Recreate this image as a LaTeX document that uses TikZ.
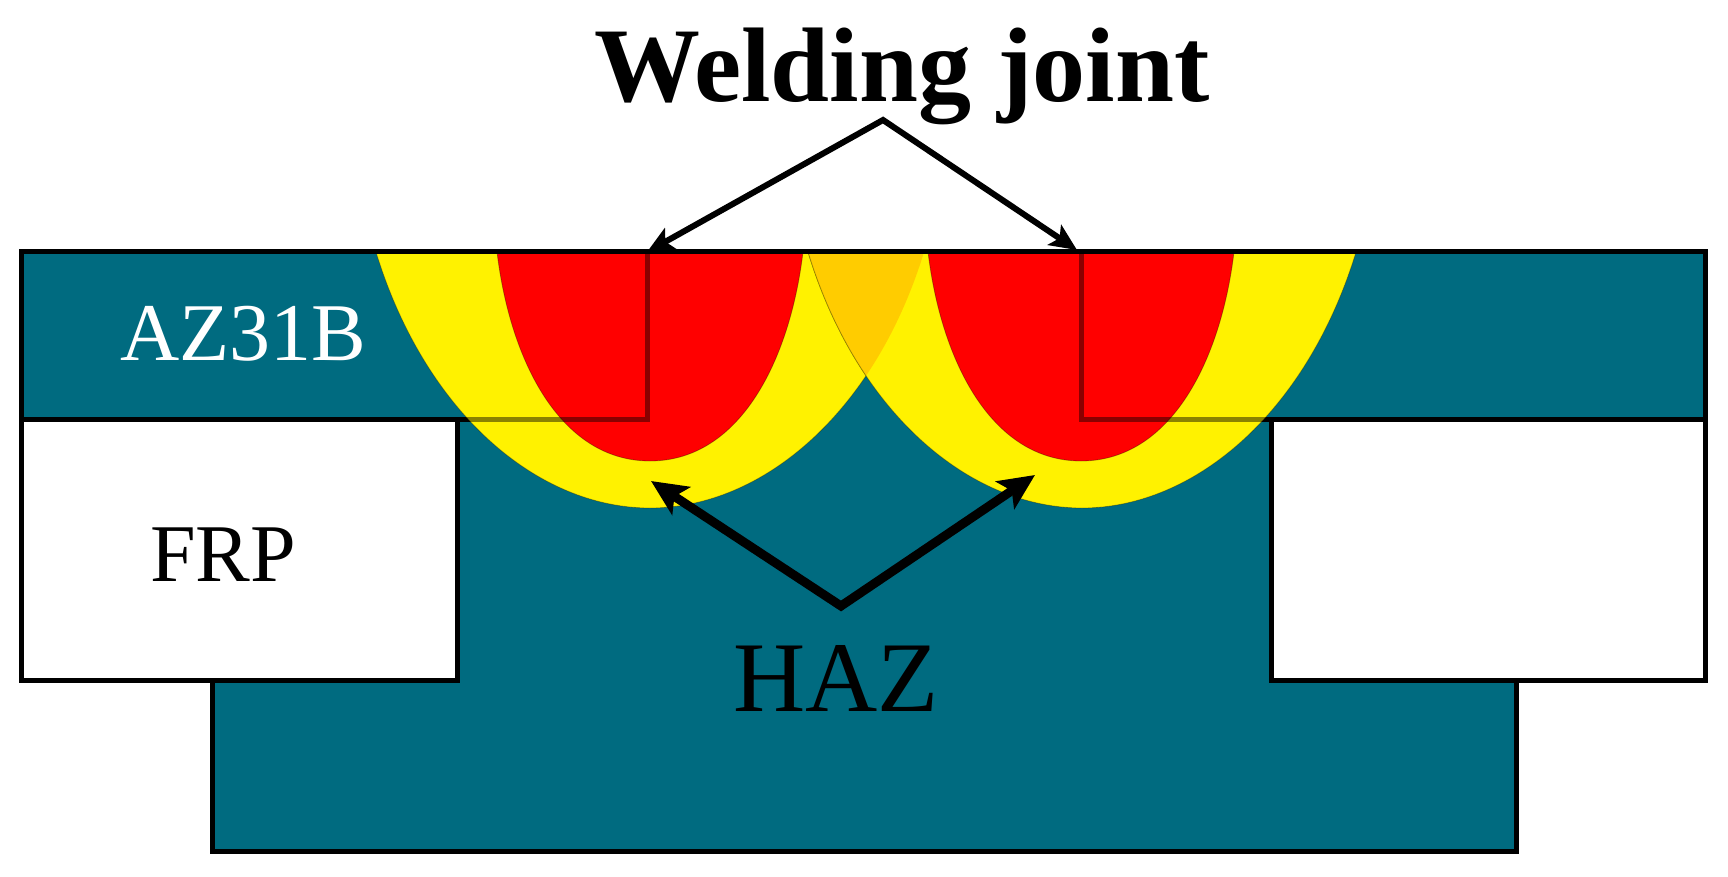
\documentclass[tikz,border=0pt]{standalone}
\usepackage{fontspec}
\setmainfont{Liberation Serif}
\usetikzlibrary{arrows.meta}
\definecolor{steel}{RGB}{0,107,128}
\definecolor{amberz}{RGB}{255,204,0}
\newcommand{\outerzone}{(-274,0) .. controls (-225,160) and (-113,256) .. (0,256) .. controls (113,256) and (225,160) .. (274,0) -- cycle}
\newcommand{\innerzone}{(-153,0) .. controls (-140,108) and (-90,209) .. (0,209) .. controls (90,209) and (140,108) .. (153,0) -- cycle}
\tikzset{
  x=1pt,y=-1pt,
  frame/.style={draw=black,line width=5pt,line join=miter},
  seen/.style={draw=black,draw opacity=.46,line width=5pt,line join=miter},
  haz/.style={fill=yellow,draw=black,draw opacity=.3,line width=.8pt},
  fus/.style={fill=red,draw=black,draw opacity=.3,line width=.8pt},
  label/.style={inner sep=0pt,anchor=base},
  jointarrow/.style={line width=6pt,line join=miter,miter limit=10,{Stealth[length=27pt,width=24pt,inset=6pt]}-{Stealth[length=27pt,width=24pt,inset=6pt]}},
  hazarrow/.style={line width=9pt,line join=miter,miter limit=10,{Stealth[length=36pt,width=33pt,inset=8pt]}-{Stealth[length=36pt,width=33pt,inset=8pt]}}
}
\begin{document}
\begin{tikzpicture}
\useasboundingbox (0,0) rectangle (1728,877);
% body
\fill[steel] (21,252) -- (1705,252) -- (1705,419) -- (1271,419) -- (1271,680) -- (1516,680) -- (1516,851) -- (212,851) -- (212,680) -- (457,680) -- (457,419) -- (21,419) -- cycle;
\fill[white] (21,419) rectangle (457,680);
\fill[white] (1271,419) rectangle (1705,680);
% hidden lines under zones
\draw[frame] (21,419) -- (647,419) -- (647,252);
\draw[frame] (1705,419) -- (1081,419) -- (1081,252);
% zones
\path[haz,shift={(650,252)}] \outerzone;
\path[haz,shift={(1082,252)}] \outerzone;
\begin{scope}
  \clip[shift={(650,252)}] \outerzone;
  \path[fill=amberz,draw=black,draw opacity=.3,line width=.8pt,shift={(1082,252)}] \outerzone;
\end{scope}
\path[fus,shift={(650,252)}] \innerzone;
\path[fus,shift={(1081,252)}] \innerzone;
% lines seen through the zones
\draw[seen] (440,419) -- (647,419) -- (647,252);
\draw[seen] (1290,419) -- (1081,419) -- (1081,252);
% outline
\draw[frame] (21,419) -- (21,252) -- (1705,252) -- (1705,419);
\draw[frame] (21,419) -- (457,419) -- (457,680) -- (21,680) -- cycle;
\draw[frame] (1705,419) -- (1271,419) -- (1271,680) -- (1705,680) -- cycle;
\draw[frame] (212,680) -- (212,851) -- (1516,851) -- (1516,680);
\draw[frame] (21,419) -- (21,680);
% labels
\node[label,font=\fontsize{106}{106}\selectfont\bfseries] (wj) at (902,102) {Welding joint};
\node[label,font=\fontsize{82}{82}\selectfont,text=white] (az) at (243,360) {AZ31B};
\node[label,font=\fontsize{82}{82}\selectfont] (frp) at (223,581) {FRP};
\node[label,font=\fontsize{100}{100}\selectfont] (hz) at (836,711) {HAZ};
% arrows
\coordinate (ja) at (883,120);
\coordinate (jl) at (647,252);
\coordinate (jr) at (1077,250);
\coordinate (ha) at (841,606);
\coordinate (hl) at (651,481);
\coordinate (hr) at (1035,475);
\draw[jointarrow] (jl) -- (ja) -- (jr);
\draw[hazarrow] (hl) -- (ha) -- (hr);
\end{tikzpicture}
\end{document}
